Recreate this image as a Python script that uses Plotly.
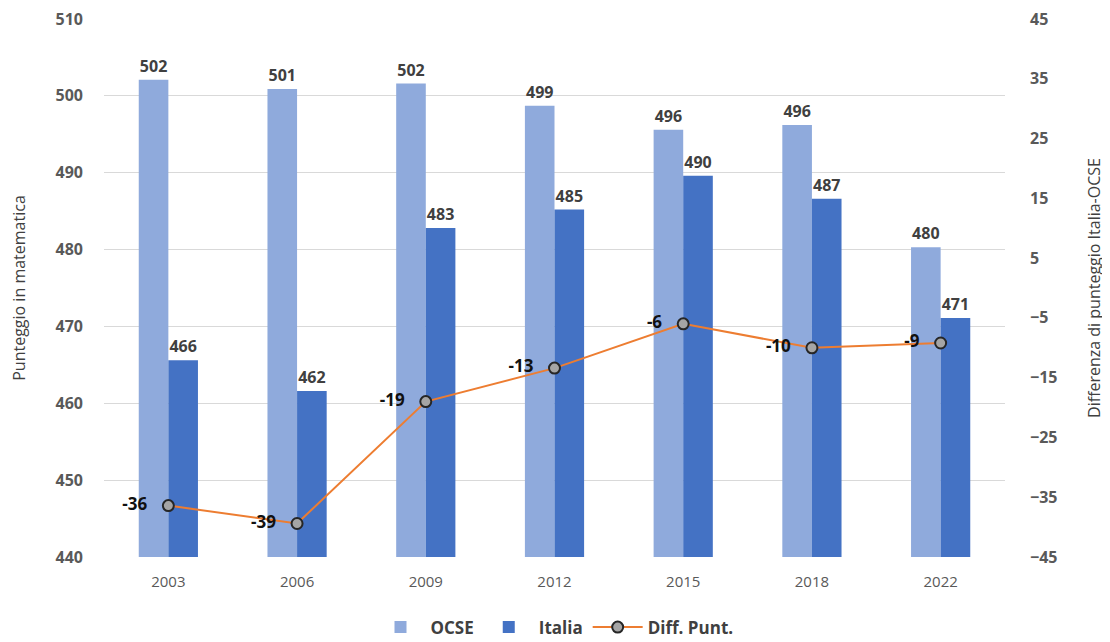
import plotly.graph_objects as go

years = ["2003", "2006", "2009", "2012", "2015", "2018", "2022"]
ocse = [502.1, 500.9, 501.6, 498.7, 495.6, 496.2, 480.3]
italia = [465.6, 461.6, 482.8, 485.2, 489.6, 486.6, 471.1]
diff = [-36.4, -39.4, -19.0, -13.4, -6.0, -10.0, -9.2]

left_ticks = [440, 450, 460, 470, 480, 490, 500, 510]
right_ticks = [-45, -35, -25, -15, -5, 5, 15, 25, 35, 45]

FONT = "Open Sans"
fig = go.Figure()

fig.add_trace(go.Bar(
    x=years, y=ocse, name="OCSE",
    marker=dict(color="#8FAADC", line=dict(width=0)),
    text=[f"{round(v)}" for v in ocse], textposition="outside",
    textfont=dict(family=FONT, size=16, color="#404040", weight="bold"),
    cliponaxis=False,
))
fig.add_trace(go.Bar(
    x=years, y=italia, name="Italia",
    marker=dict(color="#4472C4", line=dict(width=0)),
    text=[f"{round(v)}" for v in italia], textposition="outside",
    textfont=dict(family=FONT, size=16, color="#404040", weight="bold"),
    cliponaxis=False,
))
fig.add_trace(go.Scatter(
    x=years, y=diff, name="Diff. Punt.", yaxis="y2",
    mode="lines+markers+text",
    line=dict(color="#ED7D31", width=2),
    marker=dict(size=11, color="#A5A5A5", line=dict(color="#262626", width=2)),
    text=[f"{round(v)}   " for v in diff], textposition="middle left",
    textfont=dict(family=FONT, size=17, color="#111111", weight="bold"),
    cliponaxis=False,
))

fig.update_layout(
    width=1110, height=642,
    margin=dict(l=96, r=113, t=11, b=93, autoexpand=False),
    paper_bgcolor="white", plot_bgcolor="white",
    barmode="group", bargap=0.54, bargroupgap=0,
    font=dict(family=FONT, color="#595959"),
    showlegend=True,
    legend=dict(orientation="h", x=0.5, xanchor="center", xref="paper",
                y=0.035, yanchor="middle", yref="container",
                font=dict(family=FONT, size=17, color="#404040", weight="bold"),
                itemwidth=50, traceorder="normal"),
    xaxis=dict(type="category", showgrid=False, showline=False, ticks="", automargin=False,
               ticklabelstandoff=14,
               tickfont=dict(family=FONT, size=15, color="#595959")),
    yaxis=dict(range=[440, 510], tickvals=left_ticks, showgrid=True, automargin=False,
               gridcolor="#D9D9D9", gridwidth=1, zeroline=False, showline=False,
               ticks="", tickfont=dict(family=FONT, size=16, color="#595959", weight="bold"),
               ticklabelstandoff=20, ticklabeloverflow="allow",
               title=dict(text="Punteggio in matematica", font=dict(family=FONT, size=16, color="#404040"),
                          standoff=26)),
    yaxis2=dict(range=[-45, 45], tickvals=right_ticks, overlaying="y", side="right", automargin=False,
                showgrid=False, zeroline=False, showline=False, ticks="",
                tickfont=dict(family=FONT, size=16, color="#595959", weight="bold"),
                ticklabelstandoff=24, ticklabeloverflow="allow",
                title=dict(text="Differenza di punteggio Italia-OCSE",
                           font=dict(family=FONT, size=16, color="#404040"), standoff=32)),
)

fig.write_html("out.html")
